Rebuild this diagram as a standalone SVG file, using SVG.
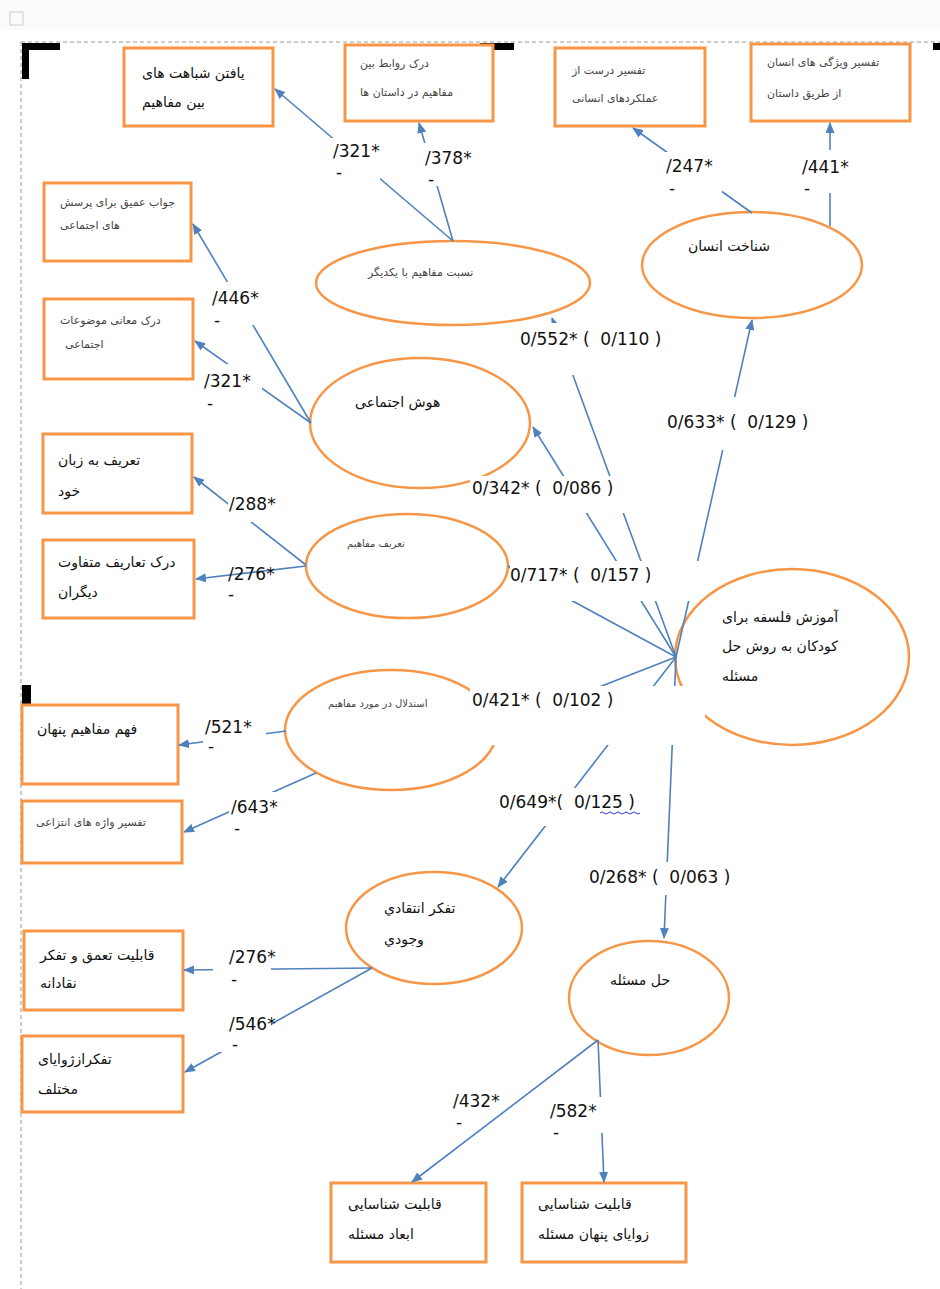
<svg xmlns="http://www.w3.org/2000/svg" width="940" height="1289" viewBox="0 0 940 1289">
<defs>
<marker id="ah" markerWidth="11" markerHeight="9" refX="10" refY="4.5" orient="auto" markerUnits="userSpaceOnUse"><path d="M0,0 L11,4.5 L0,9 z" fill="#4F81BD"/></marker>
<style>
.box{fill:#fff;stroke:#F79646;stroke-width:3}
.ell{fill:none;stroke:#F79646;stroke-width:2.5}
.c{stroke:#4F81BD;stroke-width:1.6;fill:none}
.ca{stroke:#4F81BD;stroke-width:1.6;fill:none;marker-end:url(#ah)}
.t{font-family:"DejaVu Sans",sans-serif;font-size:14px;fill:#111}
.s{font-family:"DejaVu Sans",sans-serif;font-size:11px;fill:#444}
.n{font-family:"DejaVu Sans",sans-serif;font-size:17px;fill:#111;white-space:pre}
.bg{fill:#fff}
.mk{fill:#000}
</style>
</defs>
<rect width="940" height="1289" fill="#fff"/>
<g id="page">
<rect x="0" y="0" width="940" height="30" fill="#fbfbfb"/>
<rect x="10" y="12" width="13" height="13" fill="none" stroke="#ccc" stroke-width="1"/>
<line x1="21" y1="42" x2="940" y2="42" stroke="#999" stroke-width="1" stroke-dasharray="4,3"/>
<line x1="21" y1="42" x2="21" y2="1289" stroke="#999" stroke-width="1" stroke-dasharray="4,3"/>
<rect class="mk" x="22" y="43" width="38" height="7"/>
<rect class="mk" x="22" y="43" width="7" height="36"/>
<rect class="mk" x="480" y="43" width="34" height="7"/>
<rect class="mk" x="933" y="43" width="7" height="7"/>
<rect class="mk" x="22" y="685" width="9" height="33"/>
</g>
<g id="box1"><rect class="box" x="124" y="48" width="149" height="78"/><text class="t" x="142" y="78">یافتن شباهت های</text><text class="t" x="142" y="107">بین مفاهیم</text></g>
<g id="box2"><rect class="box" x="345" y="45" width="148" height="76"/><text class="s" x="360" y="67">درک روابط بین</text><text class="s" x="360" y="96">مفاهیم در داستان ها</text></g>
<g id="box3"><rect class="box" x="555" y="48" width="150" height="78"/><text class="s" x="572" y="74">تفسیر درست از</text><text class="s" x="572" y="102">عملکردهای انسانی</text></g>
<g id="box4"><rect class="box" x="751" y="44" width="159" height="77"/><text class="s" x="767" y="66">تفسیر ویژگی های انسان</text><text class="s" x="767" y="97">از طریق داستان</text></g>
<g id="box5"><rect class="box" x="44" y="183" width="147" height="78"/><text class="s" x="60" y="206">جواب عمیق برای پرسش</text><text class="s" x="60" y="229">های اجتماعی</text></g>
<g id="box6"><rect class="box" x="44" y="299" width="149" height="80"/><text class="s" x="60" y="324">درک معانی موضوعات</text><text class="s" x="65" y="348">اجتماعی</text></g>
<g id="box7"><rect class="box" x="43" y="434" width="149" height="79"/><text class="t" x="58" y="465">تعریف به زبان</text><text class="t" x="58" y="496">خود</text></g>
<g id="box8"><rect class="box" x="43" y="540" width="151" height="78"/><text class="t" x="58" y="567">درک تعاریف متفاوت</text><text class="t" x="58" y="597">دیگران</text></g>
<g id="box9"><rect class="box" x="22" y="705" width="156" height="79"/><text class="t" x="37" y="734">فهم مفاهیم پنهان</text></g>
<g id="box10"><rect class="box" x="22" y="801" width="160" height="62"/><text class="s" x="36" y="826">تفسیر واژه های انتزاعی</text></g>
<g id="box11"><rect class="box" x="24" y="931" width="159" height="79"/><text class="t" x="40" y="960">قابلیت تعمق و تفکر</text><text class="t" x="40" y="988">نقادانه</text></g>
<g id="box12"><rect class="box" x="22" y="1036" width="161" height="76"/><text class="t" x="38" y="1064">تفکرازژوایای</text><text class="t" x="38" y="1094">مختلف</text></g>
<g id="box13"><rect class="box" x="331" y="1183" width="155" height="79"/><text class="t" x="348" y="1209">قابلیت شناسایی</text><text class="t" x="348" y="1239">ابعاد مسئله</text></g>
<g id="box14"><rect class="box" x="522" y="1183" width="164" height="79"/><text class="t" x="538" y="1209">قابلیت شناسایی</text><text class="t" x="538" y="1239">زوایای پنهان مسئله</text></g>
<g id="nodeA"><ellipse class="ell" cx="453" cy="283" rx="137" ry="42"/><text class="s" x="368" y="276">نسبت مفاهیم با یکدیگر</text></g>
<g id="nodeB"><ellipse class="ell" cx="752" cy="265" rx="110" ry="53"/><text class="t" x="688" y="251">شناخت انسان</text></g>
<g id="nodeC"><ellipse class="ell" cx="420" cy="423" rx="110" ry="65"/><text class="t" x="355" y="407">هوش اجتماعی</text></g>
<g id="nodeD"><ellipse class="ell" cx="407" cy="566" rx="101" ry="52"/><text class="s" x="347" y="547" style="font-size:10px">تعریف مفاهیم</text></g>
<g id="nodeE"><ellipse class="ell" cx="391" cy="730" rx="106" ry="60"/><text class="s" x="328" y="707" style="font-size:10px">استدلال در مورد مفاهیم</text></g>
<g id="nodeF"><ellipse class="ell" cx="792" cy="657" rx="117" ry="88"/><text class="t" x="722" y="622">آموزش فلسفه برای</text><text class="t" x="722" y="651">کودکان به روش حل</text><text class="t" x="722" y="681">مسئله</text></g>
<g id="nodeG"><ellipse class="ell" cx="434" cy="928" rx="88" ry="56"/><text class="t" x="384" y="913">تفکر انتقادي</text><text class="t" x="384" y="944">وجودي</text></g>
<g id="nodeH"><ellipse class="ell" cx="649" cy="998" rx="80" ry="57"/><text class="t" x="610" y="985">حل مسئله</text></g>
<g id="connectors">
<line class="ca" x1="453" y1="241" x2="275" y2="89"/>
<line class="ca" x1="453" y1="241" x2="419" y2="123"/>
<line class="ca" x1="752" y1="213" x2="633" y2="128"/>
<line class="ca" x1="830" y1="226" x2="830" y2="123"/>
<line class="ca" x1="311" y1="423" x2="193" y2="224"/>
<line class="ca" x1="311" y1="423" x2="195" y2="341"/>
<line class="ca" x1="306" y1="565" x2="194" y2="477"/>
<line class="ca" x1="306" y1="566" x2="196" y2="579"/>
<line class="ca" x1="286" y1="731" x2="179" y2="745"/>
<line class="ca" x1="316" y1="773" x2="184" y2="832"/>
<line class="ca" x1="372" y1="968" x2="184" y2="970"/>
<line class="ca" x1="372" y1="968" x2="185" y2="1072"/>
<line class="ca" x1="598" y1="1040" x2="412" y2="1182"/>
<line class="ca" x1="598" y1="1040" x2="604" y2="1182"/>
<line class="ca" x1="676" y1="657" x2="552" y2="318"/>
<line class="ca" x1="676" y1="657" x2="533" y2="427"/>
<line class="ca" x1="676" y1="657" x2="508" y2="566"/>
<line class="ca" x1="676" y1="657" x2="497" y2="727"/>
<line class="ca" x1="676" y1="657" x2="498" y2="887"/>
<line class="ca" x1="676" y1="657" x2="664" y2="938"/>
<line class="ca" x1="676" y1="657" x2="752" y2="320"/>
</g>
<g id="labels">
<rect class="bg" x="331" y="138" width="49" height="44"/><text class="n" x="333" y="157">/321*</text><text class="n" x="336" y="178">-</text>
<rect class="bg" x="422" y="143" width="56" height="43"/><text class="n" x="425" y="164">/378*</text><text class="n" x="428" y="185">-</text>
<rect class="bg" x="664" y="152" width="58" height="43"/><text class="n" x="666" y="172">/247*</text><text class="n" x="669" y="194">-</text>
<rect class="bg" x="800" y="150" width="58" height="43"/><text class="n" x="802" y="173">/441*</text><text class="n" x="804" y="194">-</text>
<rect class="bg" x="208" y="282" width="58" height="43"/><text class="n" x="212" y="304">/446*</text><text class="n" x="214" y="326">-</text>
<rect class="bg" x="202" y="364" width="60" height="46"/><text class="n" x="204" y="387">/321*</text><text class="n" x="207" y="409">-</text>
<rect class="bg" x="228" y="494" width="54" height="28"/><text class="n" x="229" y="510">/288*</text>
<text class="n" x="228" y="580">/276*</text><text class="n" x="228" y="600">-</text>
<rect class="bg" x="203" y="714" width="63" height="40"/><text class="n" x="205" y="733">/521*</text><text class="n" x="208" y="752">-</text>
<rect class="bg" x="229" y="792" width="51" height="44"/><text class="n" x="231" y="813">/643*</text><text class="n" x="234" y="834">-</text>
<rect class="bg" x="213" y="946" width="58" height="44"/><text class="n" x="229" y="963">/276*</text><text class="n" x="231" y="985">-</text>
<rect class="bg" x="213" y="1010" width="59" height="42"/><text class="n" x="229" y="1030">/546*</text><text class="n" x="232" y="1050">-</text>
<text class="n" x="453" y="1107">/432*</text><text class="n" x="456" y="1128">-</text>
<rect class="bg" x="548" y="1097" width="58" height="36"/><text class="n" x="550" y="1117">/582*</text><text class="n" x="553" y="1138">-</text>
<rect class="bg" x="518" y="323" width="154" height="52"/><text class="n" x="520" y="345">0/552* (  0/110 )</text>
<rect class="bg" x="665" y="397" width="155" height="53"/><text class="n" x="667" y="428">0/633* (  0/129 )</text>
<rect class="bg" x="470" y="476" width="160" height="37"/><text class="n" x="472" y="494">0/342* (  0/086 )</text>
<rect class="bg" x="510" y="561" width="190" height="40"/><text class="n" x="510" y="581">0/717* (  0/157 )</text>
<rect class="bg" x="470" y="686" width="235" height="59"/><text class="n" x="472" y="706">0/421* (  0/102 )</text>
<rect class="bg" x="497" y="788" width="153" height="38"/><text class="n" x="499" y="808">0/649*(  0/125 )</text>
<path d="M600,813 q2,-2 4,0 t4,0 t4,0 t4,0 t4,0 t4,0 t4,0 t4,0 t4,0 t4,0" stroke="#3030e0" stroke-width="1" fill="none"/>
<rect class="bg" x="587" y="862" width="153" height="33"/><text class="n" x="589" y="883">0/268* (  0/063 )</text>
</g>
</svg>
